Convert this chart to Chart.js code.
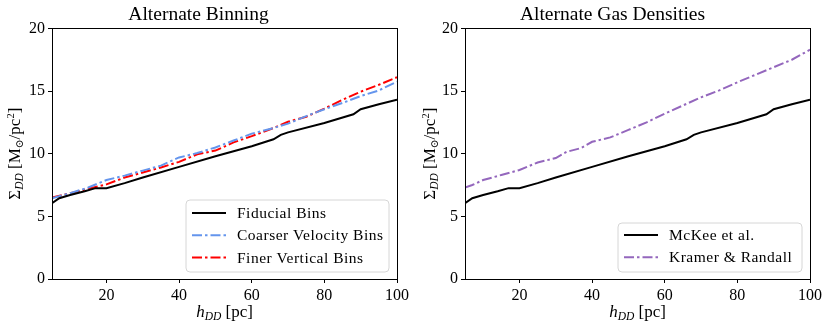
<!DOCTYPE html>
<html><head><meta charset="utf-8">
<script src="https://cdn.jsdelivr.net/npm/chart.js@4"></script>
<style>
html,body{margin:0;padding:0;background:#fff;}
#wrap{width:830px;height:330px;display:flex;}
canvas{display:block;}
</style></head><body>
<div id="wrap"><canvas id="c1" width="415" height="330"></canvas><canvas id="c2" width="415" height="330"></canvas></div>
<script>
// ---- data ----
const xTicks = [20, 40, 60, 80, 100];
const yTicks = [0, 5, 10, 15, 20];
const titles = ["Alternate Binning", "Alternate Gas Densities"];

const fiducialX = [5, 7, 10, 14, 17, 20, 25, 30, 40, 50, 60, 66, 68, 70, 80, 88, 90, 95, 100];
const fiducialY = [6.05, 6.45, 6.7, 7.0, 7.25, 7.25, 7.65, 8.1, 8.95, 9.8, 10.6, 11.15, 11.5, 11.7, 12.45, 13.15, 13.55, 13.95, 14.3];

const coarserX = [5, 10, 15, 20, 25, 30, 35, 40, 45, 50, 55, 60, 66, 70, 75, 80, 85, 90, 95, 100];
const coarserY = [6.45, 6.85, 7.3, 7.9, 8.25, 8.65, 9.05, 9.7, 10.05, 10.5, 11.05, 11.6, 12.05, 12.4, 13.0, 13.55, 14.05, 14.6, 15.05, 15.75];

const finerX = [5, 10, 15, 20, 25, 30, 35, 40, 45, 50, 55, 60, 66, 70, 75, 80, 85, 90, 95, 100];
const finerY = [6.5, 6.85, 7.2, 7.55, 8.1, 8.5, 8.9, 9.35, 9.95, 10.25, 10.9, 11.4, 12.05, 12.55, 12.95, 13.6, 14.3, 14.95, 15.5, 16.1];

const kramerX = [5, 7, 10, 15, 20, 25, 30, 33, 37, 40, 45, 50, 55, 60, 65, 70, 75, 80, 85, 90, 95, 100];
const kramerY = [7.3, 7.5, 7.9, 8.3, 8.7, 9.3, 9.65, 10.15, 10.45, 10.95, 11.3, 11.9, 12.5, 13.2, 13.85, 14.5, 15.05, 15.7, 16.3, 16.9, 17.5, 18.3];

const labels1 = ["Fiducial Bins", "Coarser Velocity Bins", "Finer Vertical Bins"];
const labels2 = ["McKee et al.", "Kramer & Randall"];

// ---- helpers ----
const pts = (xs, ys) => xs.map((x, i) => ({x: x, y: ys[i]}));
const DASHDOT = [10, 3, 2.5, 3];
const SERIF = "'Liberation Serif', 'DejaVu Serif', serif";

function ds(label, xs, ys, color, dash) {
  return {label: label, data: pts(xs, ys), borderColor: color, backgroundColor: color,
    borderWidth: 2, borderDash: dash, pointRadius: 0, tension: 0, fill: false};
}

function drawRich(ctx, parts, x, y, align) {
  let w = 0;
  parts.forEach(p => { ctx.font = p[2] + " " + p[1] + "px " + SERIF; w += ctx.measureText(p[0]).width; });
  let cx = align === "center" ? x - w / 2 : x;
  parts.forEach(p => {
    ctx.font = p[2] + " " + p[1] + "px " + SERIF;
    ctx.textAlign = "left"; ctx.textBaseline = "alphabetic";
    ctx.fillText(p[0], cx, y + p[3]);
    cx += ctx.measureText(p[0]).width;
  });
}

const decor = {
  id: "decor",
  afterDraw(chart, args, opts) {
    const ctx = chart.ctx, a = chart.chartArea;
    ctx.save();
    ctx.strokeStyle = "#000"; ctx.lineWidth = 1; ctx.setLineDash([]);
    ctx.strokeRect(Math.round(a.left) + 0.5, Math.round(a.top) + 0.5, Math.round(a.right - a.left), Math.round(a.bottom - a.top));
    ctx.fillStyle = "#000";
    drawRich(ctx, [["h", 17, "italic", 0], ["DD", 11.5, "italic", 3], [" [pc]", 17, "normal", 0]],
      (a.left + a.right) / 2, 317, "center");
    ctx.save();
    ctx.translate(opts.yTitleX, (a.top + a.bottom) / 2);
    ctx.rotate(-Math.PI / 2);
    drawRich(ctx, [["Σ", 17, "normal", 0], ["DD", 11.5, "italic", 3], [" [M", 17, "normal", 0], ["⊙", 10.5, "normal", 3],
      ["/pc", 17, "normal", 0], ["2", 10.5, "normal", -6], ["]", 17, "normal", 0]], 0, 0, "center");
    ctx.restore();
    const L = opts.legend;
    ctx.beginPath();
    const r = 4, lx = L.x, ly = L.y, lw = L.w, lh = L.h;
    ctx.moveTo(lx + r, ly); ctx.lineTo(lx + lw - r, ly); ctx.arcTo(lx + lw, ly, lx + lw, ly + r, r);
    ctx.lineTo(lx + lw, ly + lh - r); ctx.arcTo(lx + lw, ly + lh, lx + lw - r, ly + lh, r);
    ctx.lineTo(lx + r, ly + lh); ctx.arcTo(lx, ly + lh, lx, ly + lh - r, r);
    ctx.lineTo(lx, ly + r); ctx.arcTo(lx, ly, lx + r, ly, r); ctx.closePath();
    ctx.fillStyle = "rgba(255,255,255,0.8)"; ctx.fill();
    ctx.strokeStyle = "#d6d6d6"; ctx.lineWidth = 1; ctx.stroke();
    chart.data.datasets.forEach((d, i) => {
      const yy = L.rowY + i * L.rowH;
      ctx.beginPath();
      ctx.strokeStyle = d.borderColor; ctx.lineWidth = 2;
      ctx.setLineDash(d.borderDash || []);
      ctx.moveTo(L.x + 6, yy); ctx.lineTo(L.x + 40, yy); ctx.stroke();
      ctx.setLineDash([]);
      ctx.fillStyle = "#000";
      ctx.font = "15.5px " + SERIF; ctx.textAlign = "left"; ctx.textBaseline = "middle";
      ctx.letterSpacing = "0.5px";
      ctx.fillText(d.label, L.x + 51, yy + 1);
      ctx.letterSpacing = "0px";
    });
    ctx.restore();
  }
};

function makeChart(id, title, datasets, yWidth, padRight, legend) {
  return new Chart(document.getElementById(id), {
    type: "line",
    data: {datasets: datasets},
    options: {
      responsive: false, animation: false,
      layout: {padding: {left: 0, right: padRight, top: 0, bottom: 0}},
      plugins: {
        legend: {display: false}, tooltip: {enabled: false},
        title: {display: true, text: title, color: "#000", font: {family: SERIF, size: 19.5, weight: "normal"},
          padding: {top: 3, bottom: 2}},
        decor: {yTitleX: 20, legend: legend}
      },
      scales: {
        x: {type: "linear", min: 5, max: 100,
          afterBuildTicks: s => { s.ticks = xTicks.map(v => ({value: v})); },
          afterFit: s => { s.height = 51; },
          grid: {display: true, drawOnChartArea: false, drawTicks: true, tickLength: 4, color: "#000"},
          border: {display: true, color: "#000"},
          ticks: {color: "#000", font: {family: SERIF, size: 16}, padding: 3, maxRotation: 0}},
        y: {type: "linear", min: 0, max: 20,
          afterBuildTicks: s => { s.ticks = yTicks.map(v => ({value: v})); },
          afterFit: s => { s.width = yWidth; },
          grid: {display: true, drawOnChartArea: false, drawTicks: true, tickLength: 4, color: "#000"},
          border: {display: true, color: "#000"},
          ticks: {color: "#000", font: {family: SERIF, size: 16}, padding: 3}}
      }
    },
    plugins: [decor]
  });
}

makeChart("c1", titles[0], [
  ds(labels1[0], fiducialX, fiducialY, "#000000", []),
  ds(labels1[1], coarserX, coarserY, "#6495ED", DASHDOT),
  ds(labels1[2], finerX, finerY, "#FF0000", DASHDOT)
], 52, 18, {x: 186, y: 200, w: 203, h: 72, rowY: 213, rowH: 22.3});

makeChart("c2", titles[1], [
  ds(labels2[0], fiducialX, fiducialY, "#000000", []),
  ds(labels2[1], kramerX, kramerY, "#9467BD", DASHDOT)
], 50, 20, {x: 203, y: 223, w: 184, h: 49, rowY: 235, rowH: 22.3});
</script>
</body></html>
